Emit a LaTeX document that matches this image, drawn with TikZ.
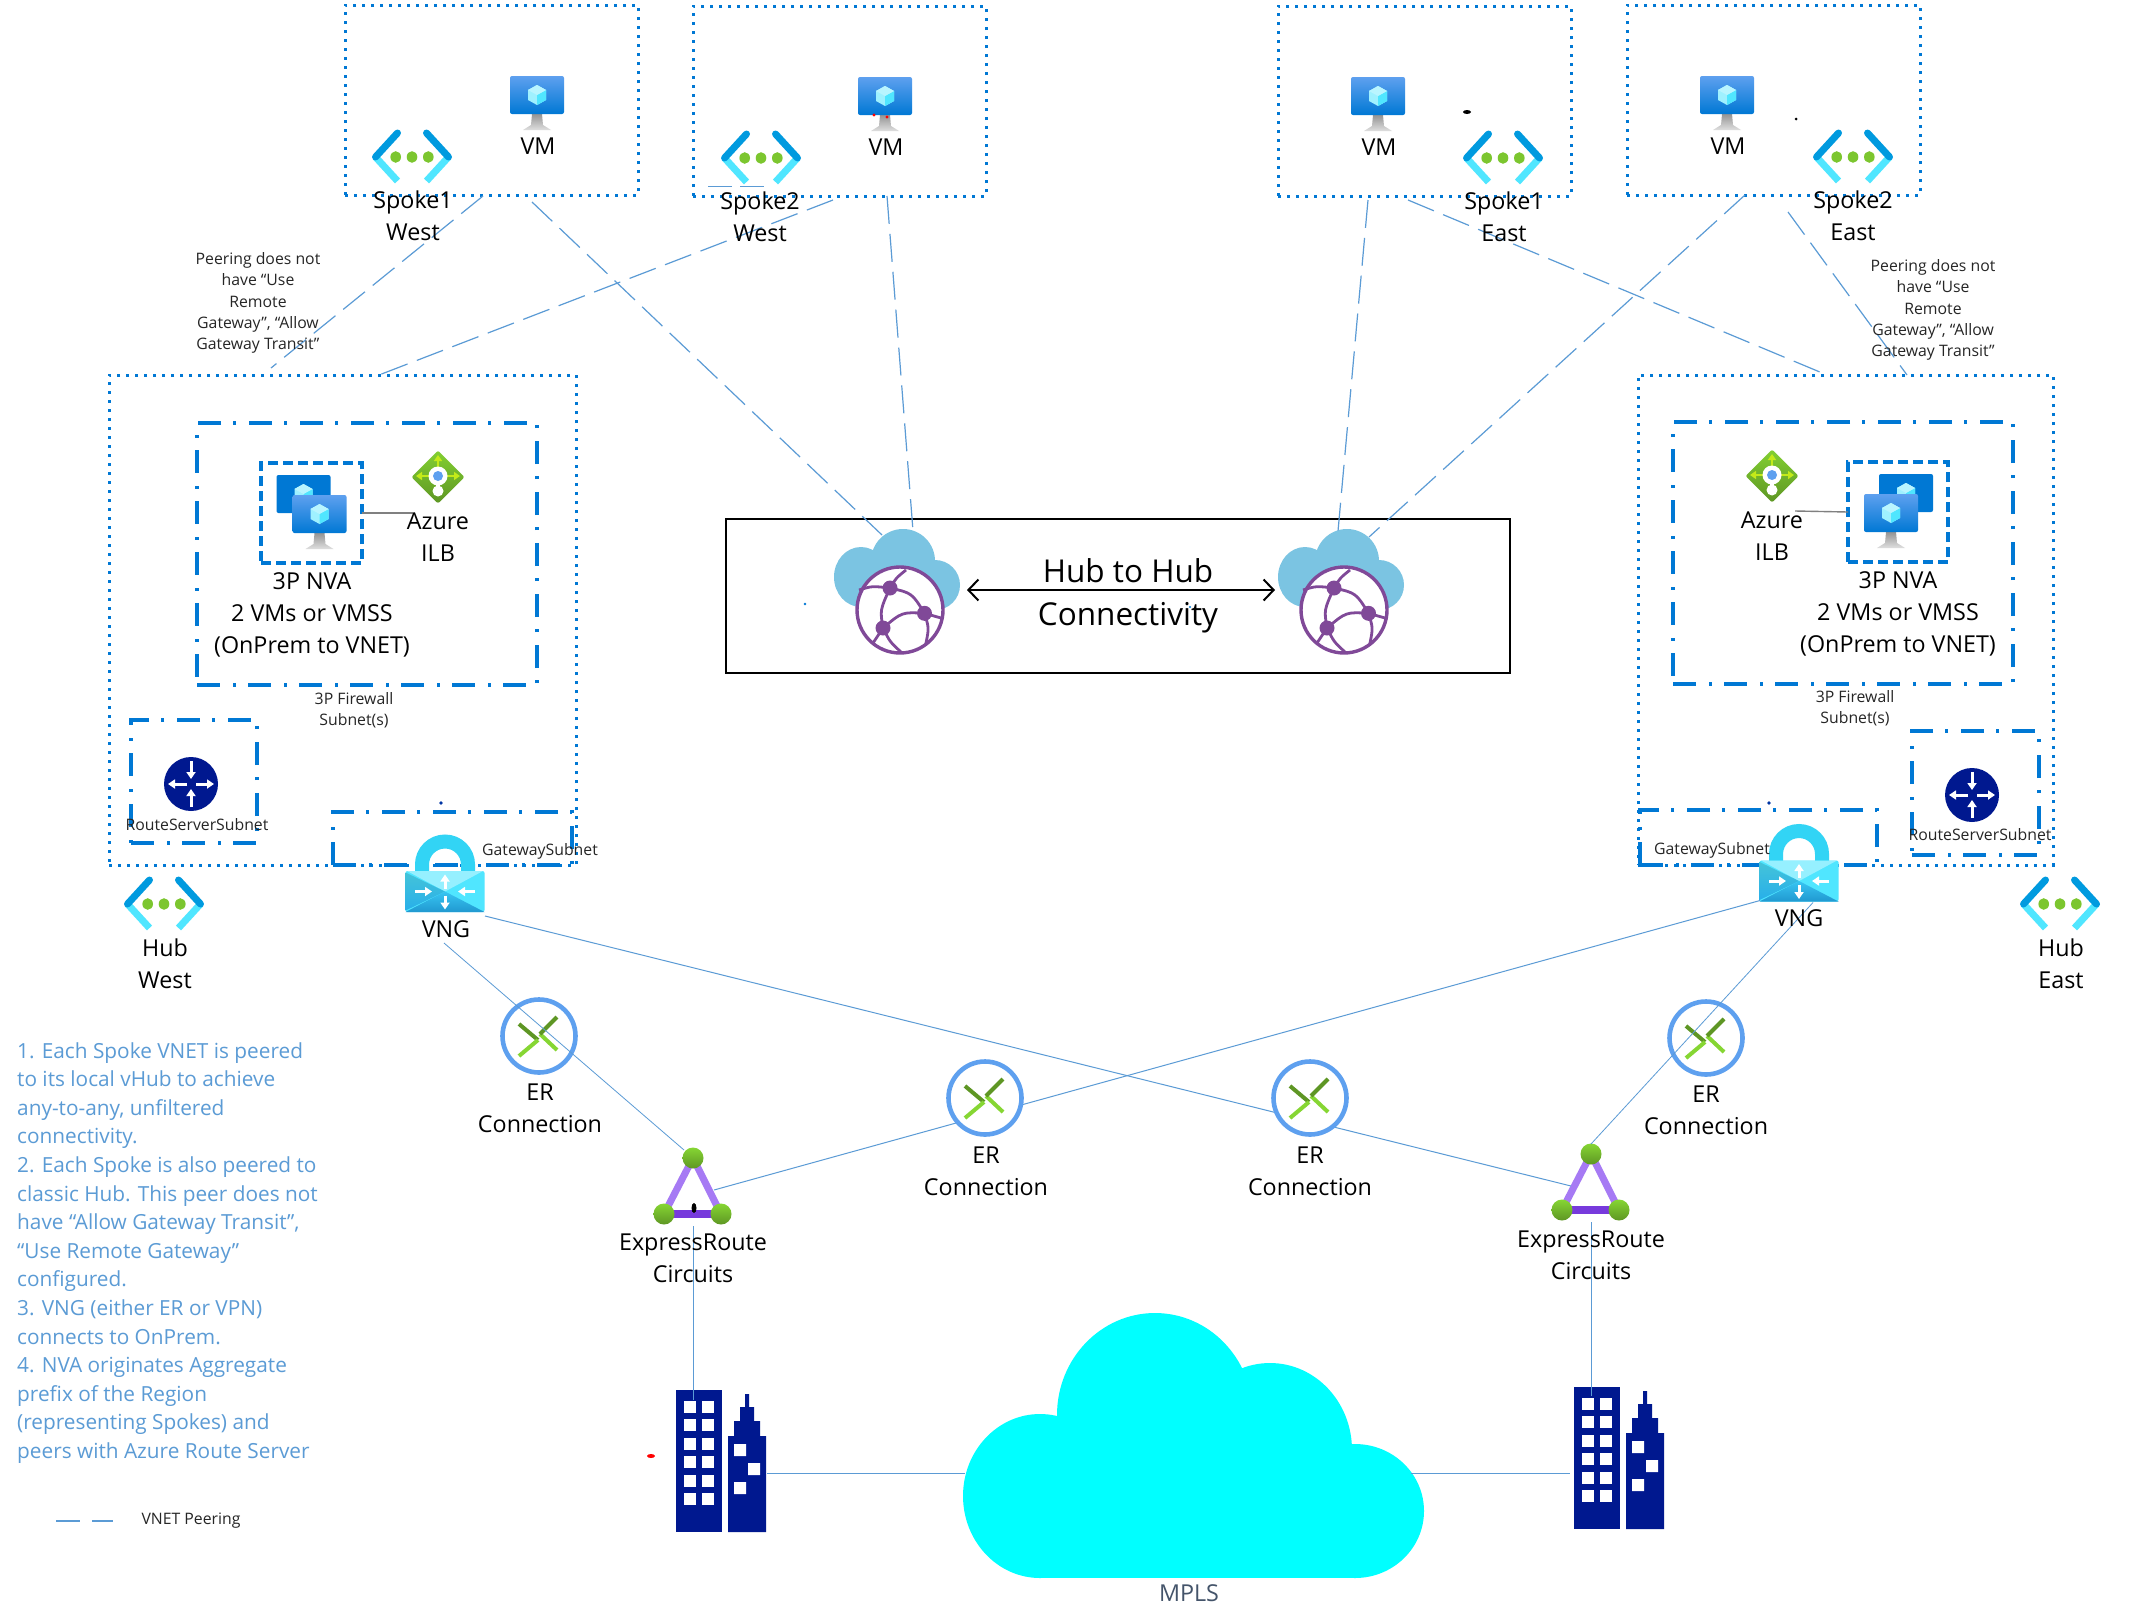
\documentclass[tikz,border=0pt]{standalone}
\usepackage{fontspec}
\setmainfont{Open Sans}
\usetikzlibrary{arrows.meta}
\definecolor{azb}{HTML}{0078D4}
\definecolor{azl}{HTML}{5EA0EF}
\definecolor{cyn}{HTML}{50E6FF}
\definecolor{lnk}{HTML}{5B9BD5}
\definecolor{nvy}{HTML}{00188F}
\definecolor{grn}{HTML}{86D633}
\definecolor{grd}{HTML}{5E9624}
\definecolor{prp}{HTML}{804998}
\definecolor{cld}{HTML}{7BC4E2}
\definecolor{gry}{HTML}{949494}
\definecolor{aqua}{HTML}{00FFFF}
\definecolor{shk}{HTML}{32D4F5}
\definecolor{tril}{HTML}{A67AF4}
\definecolor{trid}{HTML}{773ADC}
\definecolor{slate}{HTML}{44546A}
\tikzset{
 txtbig/.style={font=\fontsize{23.3}{32}\selectfont,align=center,inner sep=0pt,text=black},
 txtsmall/.style={font=\fontsize{15.8}{21.4}\selectfont,align=center,inner sep=0pt,text=black!85},
 dotbox/.style={draw=azb,line width=3pt,dash pattern=on 3pt off 6pt,inner sep=0pt,outer sep=0pt},
 dashdotbox/.style={draw=azb,line width=3.2pt,dash pattern=on 23pt off 13pt on 3pt off 12pt,inner sep=0pt,outer sep=0pt},
 nvabox/.style={draw=azb,line width=3.4pt,dash pattern=on 10pt off 5pt,inner sep=0pt,outer sep=0pt},
 iconspot/.style={inner sep=0pt,outer sep=0pt},
 peerline/.style={draw=lnk,line width=1.2pt,dash pattern=on 28pt off 10pt},
 wire/.style={draw=lnk,line width=1pt},
 arrw/.style={draw=white,line width=3pt,-{Triangle[length=7pt,width=9pt]}},
}
% VM screen with cube
\newcommand\VMscreen[1]{%
 \path[#1,rounded corners=2pt] (-27,-27) rectangle (27,11);
 \fill[cyn!55!white] (0,-18) -- (9,-13) -- (9,-3) -- (0,2) -- (-9,-3) -- (-9,-13) -- cycle;
 \fill[cyn] (0,-8) -- (9,-13) -- (9,-3) -- (0,2) -- cycle;
 \fill[white!60!cyn] (0,-18) -- (9,-13) -- (0,-8) -- (-9,-13) -- cycle;
}
\newcommand\VMstand{%
 \path[top color=gry,bottom color=gray!25] (-5,11) -- (5,11) -- (6,22) -- (14,27) -- (-14,27) -- (-6,22) -- cycle;
}
\newcommand\VMicon[3]{\begin{scope}[shift={(#2,#3)}]
 \VMstand
 \VMscreen{top color=azl,bottom color=azb}
 \node[iconspot,minimum width=54pt,minimum height=54pt] (#1) at (0,0) {};
\end{scope}}
\newcommand\VMpair[4]{\begin{scope}[shift={(#2,#3)}]
 \begin{scope}[shift={(#4,-20)}]\VMscreen{fill=azb}\end{scope}
 \VMstand
 \VMscreen{top color=azl,bottom color=azb}
 \node[iconspot,minimum width=70pt,minimum height=70pt] (#1) at (0,-8) {};
\end{scope}}
\newcommand\VNETicon[3]{\begin{scope}[shift={(#2,#3)}]
 \draw[draw=cyn,line width=7pt] (-14.5,24) -- (-36.5,0) (14.5,24) -- (36.5,0);
 \draw[draw=azb!75!cyan,line width=7pt,line cap=round] (-14.5,-24) -- (-36.5,0) (14.5,-24) -- (36.5,0);
 \foreach \d in {-16.3,0,16.3}{\fill[grn!75!grd] (\d,0) ellipse (5.3pt and 5.8pt);}
 \node[iconspot,minimum width=79pt,minimum height=53pt] (#1) at (0,0) {};
\end{scope}}
\newcommand\VNGicon[3]{\begin{scope}[shift={(#2,#3)}]
 \draw[draw=shk,line width=14pt] (-23,-18) -- (-23,-27) .. controls (-23,-39.7) and (-12.7,-50) .. (0,-50) .. controls (12.7,-50) and (23,-39.7) .. (23,-27) -- (23,-18);
 \fill[cyn,rounded corners=2pt] (-39.5,-20.5) rectangle (39.5,20.5);
 \fill[cyn!60!white] (-38,-20.5) -- (38,-20.5) -- (0,0) -- cycle;
 \path[top color=cyn!85!black,bottom color=cyn!50!azb] (-39.5,-19) -- (0,0) -- (-39.5,19) -- cycle;
 \path[top color=cyn!70!azb,bottom color=cyn!45!azb!90!black] (0,0) -- (39.5,20.5) -- (-39.5,20.5) -- cycle;
 \draw[arrw] (-30,0) -- (-13,0);
 \draw[arrw] (30,0) -- (13,0);
 \draw[arrw] (0,-3) -- (0,-17);
 \draw[arrw] (0,4) -- (0,18);
 \node[iconspot,minimum width=79pt,minimum height=78pt] (#1) at (0,-18.5) {};
\end{scope}}
\newcommand\ILBicon[3]{\begin{scope}[shift={(#2,#3)}]
 \path[top color=grn!90!grd,bottom color=grd,rounded corners=2pt] (0,-26.5) -- (26.5,0) -- (0,26.5) -- (-26.5,0) -- cycle;
 \draw[draw=grn!50!yellow,line width=2.6pt,-{Triangle[length=6pt,width=8pt]}] (-9,-1) -- (-22,-1);
 \draw[draw=grn!50!yellow,line width=2.6pt,-{Triangle[length=6pt,width=8pt]}] (9,-1) -- (22,-1);
 \draw[draw=grn!50!yellow,line width=2.6pt,-{Triangle[length=6pt,width=8pt]}] (0,-9) -- (0,-22);
 \fill[white] (0,-1) circle (9.5pt);
 \fill[white] (-2.2,5) rectangle (2.2,13);
 \fill[white] (0,14) circle (5.5pt);
 \fill[azl] (0,-1) circle (5pt);
 \node[iconspot,minimum width=53pt,minimum height=53pt] (#1) at (0,0) {};
\end{scope}}
\newcommand\RSicon[3]{\begin{scope}[shift={(#2,#3)}]
 \fill[nvy] (0,0) circle (27pt);
 \draw[arrw] (0,-23) -- (0,-5);
 \draw[arrw] (0,23) -- (0,5);
 \draw[arrw] (-4,0) -- (-23,0);
 \draw[arrw] (5,0) -- (23,0);
 \node[iconspot,circle,minimum size=54pt] (#1) at (0,0) {};
\end{scope}}
\newcommand\ERicon[4]{\begin{scope}[shift={(#2,#3)}]
 \draw[draw=azl,line width=4.6pt,#4] (0,0) circle (36.5pt);
 \draw[draw=grd,line width=4pt] (-20,-12) -- (-1,4);
 \draw[draw=grn,line width=4pt] (-1,4) -- (-20,20);
 \draw[draw=grn,line width=4pt] (1,-2) -- (18,14);
 \draw[draw=grd,line width=4pt] (18,-19) -- (1,-2);
 \node[iconspot,circle,minimum size=77pt] (#1) at (0,0) {};
\end{scope}}
\newcommand\ERCicon[3]{\begin{scope}[shift={(#2,#3)}]
 \draw[draw=tril,line width=7pt] (0,-28) -- (-29,28) (0,-28) -- (28,28);
 \draw[draw=trid,line width=8.5pt] (-29,28) -- (28,28);
 \foreach \p in {(0,-28),(-29,28),(28,28)}{\path[top color=grn,bottom color=grd] \p circle (10.5pt);}
 \node[iconspot,minimum width=78pt,minimum height=78pt] (#1) at (0,0) {};
\end{scope}}
\newcommand\VHUBicon[3]{\begin{scope}[shift={(#2,#3)}]
 % origin = centre of the 126x126 icon
 \fill[cld] (-36,-15) ellipse (27pt and 30pt);
 \fill[cld] (6,-31) circle (32pt);
 \fill[cld] (38,-7) circle (25pt);
 \fill[cld] (-30,-25) rectangle (40,16);
 \draw[draw=prp,fill=white,line width=3.4pt] (3,18) circle (43pt);
 \begin{scope}[draw=prp,line width=2.8pt,shift={(3,18)}]
  \draw (-41,-20) .. controls (-28,-24) .. (-10,-22);
  \draw (-10,-22) .. controls (-4,-32) .. (6,-40);
  \draw (-10,-22) .. controls (12,-17) .. (24.5,3.3);
  \draw (-10,-22) .. controls (-20,0) .. (-17,18);
  \draw (-17,18) .. controls (2,2) .. (24.5,3.3);
  \draw (24.5,3.3) -- (41,8);
  \draw (24.5,3.3) .. controls (29,18) .. (26,33);
  \draw (-17,18) .. controls (-10,32) .. (1,42);
  \draw (-17,18) -- (-27,33);
  \fill[prp] (-10,-22) circle (7.5pt) (24.5,3.3) circle (7.5pt) (-17,18) circle (7.5pt);
 \end{scope}
 \node[iconspot,minimum width=126pt,minimum height=126pt] (#1) at (0,0) {};
\end{scope}}
\newcommand\BLDicon[3]{\begin{scope}[shift={(#2,#3)}]
 \node[iconspot,minimum width=90pt,minimum height=142pt] (#1) at (45,71) {};
 \fill[nvy] (0,0) rectangle (46,142);
 \foreach \r in {0,...,5}{\fill[white] (7.5,10.5+18.5*\r) rectangle +(12,12);\fill[white] (26,10.5+18.5*\r) rectangle +(12,12);}
 \fill[nvy] (69,4) -- (73,4) -- (73,17) -- (78,17) -- (78,31) -- (84,31) -- (84,46) -- (90,46) -- (90,142) -- (52,142) -- (52,46) -- (58,46) -- (58,31) -- (64,31) -- (64,17) -- (69,17) -- cycle;
 \fill[white] (58,54) rectangle +(12,12) (72,73) rectangle +(12,12) (58,92) rectangle +(12,12);
\end{scope}}
\begin{document}
\begin{tikzpicture}[x=1pt,y=-1pt]
\useasboundingbox[fill=white] (0,0) rectangle (2143,1614);
% MPLS cloud
\begin{scope}
 \fill[aqua] (1040,1496) ellipse (77pt and 82pt);
 \fill[aqua] (1155,1415) ellipse (98pt and 102pt);
 \fill[aqua] (1270,1450) ellipse (82pt and 87pt);
 \fill[aqua] (1355,1511) ellipse (69pt and 67pt);
 \fill[aqua] (1040,1500) rectangle (1355,1578);
 \node[iconspot,minimum width=461pt,minimum height=265pt] (mpls) at (1193,1445) {};
\end{scope}
% boxes
\node[dotbox,minimum width=293pt,minimum height=190pt] (s1w) at (491.5,100) {};
\node[dotbox,minimum width=293pt,minimum height=190pt] (s2w) at (839.5,101) {};
\node[dotbox,minimum width=293pt,minimum height=190pt] (s1e) at (1424.5,101) {};
\node[dotbox,minimum width=293pt,minimum height=190pt] (s2e) at (1773.5,100) {};
\node[dotbox,minimum width=467pt,minimum height=490pt] (hubw) at (342.5,620) {};
\node[dotbox,minimum width=415pt,minimum height=490pt] (hube) at (1845.5,620) {};
\node[dashdotbox,minimum width=340pt,minimum height=262pt] (fww) at (367,554) {};
\node[dashdotbox,minimum width=340pt,minimum height=262pt] (fwe) at (1843,553) {};
\node[nvabox,minimum width=101pt,minimum height=100pt] (nvaw) at (311.5,513) {};
\node[nvabox,minimum width=100pt,minimum height=100pt] (nvae) at (1898,512) {};
\node[dashdotbox,minimum width=126pt,minimum height=123pt] (rsw) at (194,781.5) {};
\node[dashdotbox,minimum width=127pt,minimum height=124pt] (rse) at (1975.5,793) {};
\node[dashdotbox,minimum width=239pt,minimum height=53pt] (gww) at (452.5,838.5) {};
\node[dashdotbox,minimum width=237pt,minimum height=55pt] (gwe) at (1758.5,837.5) {};
\draw[draw=black,line width=2.6pt] (726,519) rectangle (1510,673);
\node[iconspot,minimum width=784pt,minimum height=154pt] (h2h) at (1118,596) {};
% icons that hide what runs behind them come after the lines
\VHUBicon{vhw}{897}{592}
\VHUBicon{vhe}{1341}{592}
\VMicon{vm1}{537}{103}
\VMicon{vm2}{885}{104}
\VMicon{vm3}{1378}{104}
\VMicon{vm4}{1727}{103}
\VNETicon{n1}{412}{157}
\VNETicon{n2}{761}{158}
\VNETicon{n3}{1503}{158}
\VNETicon{n4}{1853}{157}
\VNETicon{n5}{164}{904}
\VNETicon{n6}{2060}{904}
\VMpair{nv1}{319.5}{522}{-16}
\VMpair{nv2}{1891}{521}{15}
\ILBicon{il1}{438}{477}
\ILBicon{il2}{1772}{476}
\RSicon{rs1}{191}{784}
\RSicon{rs2}{1972}{795}
\VNGicon{vngw}{445}{891.5}
\VNGicon{vnge}{1799}{881}
\ERCicon{triw}{693}{1186}
\ERCicon{trie}{1591}{1182}
\BLDicon{bldw}{676}{1390}
\BLDicon{blde}{1574}{1387}
% connectors
\draw[wire] ([shift={(40,43)}]vngw.center) -- ([shift={(-20,4)}]trie.center);
\draw[wire] ([shift={(21,4)}]triw.center) -- ([shift={(-39,38)}]vnge.center);
\ERicon{er2}{985}{1098}{fill=white}
\ERicon{er3}{1310}{1098}{fill=white}
\ERicon{er1}{539}{1036}{}
\ERicon{er4}{1706}{1038}{}
\draw[wire,line width=.8pt] ([shift={(-1,70)}]vngw.center) -- ([shift={(-9,-36)}]triw.center);
\draw[wire,line width=.8pt] ([shift={(14,40)}]vnge.center) -- ([shift={(0,-38)}]trie.center);
\draw[wire,line width=.8pt] ([shift={(0,40)}]triw.center) -- ([shift={(-28,-61)}]bldw.center);
\draw[wire,line width=.8pt] ([shift={(0,40)}]trie.center) -- ([shift={(-28,-62)}]blde.center);
\draw[wire] ([shift={(46,12)}]bldw.center) -- ([shift={(-228,28)}]mpls.center);
\draw[wire] ([shift={(218,28)}]mpls.center) -- ([shift={(-49,15)}]blde.center);
\draw[draw=gray,line width=1.4pt] (nvaw.east) -- ([shift={(-25,36)}]il1.center);
\draw[draw=gray,line width=1.4pt] ([shift={(23,35)}]il2.center) -- (nvae.west);
\draw[peerline] ([shift={(-8.5,96)}]s1w.center) -- ([shift={(-71.5,-252)}]hubw.center);
\draw[peerline] ([shift={(40.5,102)}]s1w.center) -- ([shift={(-15,-57)}]vhw.center);
\draw[peerline] ([shift={(-6.5,99)}]s2w.center) -- ([shift={(36.5,-245)}]hubw.center);
\draw[peerline] ([shift={(47.5,95)}]s2w.center) -- ([shift={(16,-61)}]vhw.center);
\draw[peerline] ([shift={(-56.5,99)}]s1e.center) -- ([shift={(-3,-61)}]vhe.center);
\draw[peerline] ([shift={(-28.5,95)}]s2e.center) -- ([shift={(28,-55)}]vhe.center);
\draw[peerline] ([shift={(-16.5,99)}]s1e.center) -- ([shift={(-18.5,-245)}]hube.center);
\draw[peerline] ([shift={(14.5,112)}]s2e.center) -- ([shift={(61.5,-245)}]hube.center);
\draw[draw=black,line width=2pt,{Straight Barb[length=10pt,width=21pt]}-{Straight Barb[length=10pt,width=21pt]}] ([shift={(70,-2)}]vhw.center) -- ([shift={(-66,-2)}]vhe.center);
% legend and stray marks
\coordinate (lega) at (56,1521);
\coordinate (legb) at (113,1521);
\draw[peerline,dash pattern=on 24pt off 12pt on 21pt] (lega) -- (legb);
\coordinate (stra) at (708,186);
\coordinate (strb) at (764,186);
\draw[draw=lnk,line width=1pt,dash pattern=on 24pt off 8pt on 24pt] (stra) -- (strb);
\fill[red] (874,115) circle (1.6pt) (887,117) circle (1.6pt);
\fill[red] (651,1456) ellipse (4pt and 2pt);
\fill[black] (694,1208) ellipse (2.5pt and 5pt);
\fill[black] (1467,112) ellipse (4pt and 2pt);
\fill[black] (1796,119) circle (1.5pt);
\fill[azb] (805,604) circle (1.3pt) (1190,607) circle (1.1pt);
\fill[nvy!70!azb] (441,803) circle (1.8pt) (1769,803) circle (1.8pt);
% labels
\node[txtbig] (t1) at (538,146) {VM};
\node[txtbig] (t2) at (886,147) {VM};
\node[txtbig] (t3) at (1379,147) {VM};
\node[txtbig] (t4) at (1728,146) {VM};
\node[txtbig] (t5) at (413,216) {Spoke1\\West};
\node[txtbig] (t6) at (760,217) {Spoke2\\West};
\node[txtbig] (t7) at (1504,217) {Spoke1\\East};
\node[txtbig] (t8) at (1853,216) {Spoke2\\East};
\node[txtbig] (t9) at (165,964) {Hub\\West};
\node[txtbig] (t10) at (2061,964) {Hub\\East};
\node[txtbig] (t11) at (312,614.5) {3P NVA\\2 VMs or VMSS\\(OnPrem to VNET)};
\node[txtbig] (t12) at (1898,613.5) {3P NVA\\2 VMs or VMSS\\(OnPrem to VNET)};
\node[txtbig] (t13) at (438,537) {Azure\\ILB};
\node[txtbig] (t14) at (1772,536) {Azure\\ILB};
\node[txtbig] (t15) at (446,929) {VNG};
\node[txtbig] (t16) at (1799,918) {VNG};
\node[txtbig] (t17) at (540,1108) {ER\\Connection};
\node[txtbig] (t18) at (986,1171) {ER\\Connection};
\node[txtbig] (t19) at (1310,1171) {ER\\Connection};
\node[txtbig] (t20) at (1706,1110) {ER\\Connection};
\node[txtbig] (t21) at (693,1258) {ExpressRoute\\Circuits};
\node[txtbig] (t22) at (1591,1255) {ExpressRoute\\Circuits};
\node[txtbig,font=\fontsize{31.5}{43}\selectfont] (t23) at (1128,596) {Hub to Hub\\Connectivity};
\node[txtbig,text=slate] (t24) at (1189,1593) {MPLS};
\node[txtsmall] (t25) at (258,303) {Peering does not\\have “Use\\Remote\\Gateway”, “Allow\\Gateway Transit”};
\node[txtsmall] (t26) at (1933,310) {Peering does not\\have “Use\\Remote\\Gateway”, “Allow\\Gateway Transit”};
\node[txtsmall] (t27) at (354,710) {3P Firewall\\Subnet(s)};
\node[txtsmall] (t28) at (1855,708) {3P Firewall\\Subnet(s)};
\node[txtsmall] (t29) at (197,825) {RouteServerSubnet};
\node[txtsmall] (t30) at (1980,835) {RouteServerSubnet};
\node[txtsmall] (t31) at (540,851) {GatewaySubnet};
\node[txtsmall] (t32) at (1712,850) {GatewaySubnet};
\node[txtsmall] (t33) at (191,1521) {VNET Peering};
\node[inner sep=0pt,anchor=north west,align=left,text=lnk,font=\fontsize{20.8}{28.6}\selectfont] (notes) at (17,1042) {1. Each Spoke VNET is peered\\to its local vHub to achieve\\any-to-any, unfiltered\\connectivity.\\2. Each Spoke is also peered to\\classic Hub. This peer does not\\have “Allow Gateway Transit”,\\“Use Remote Gateway”\\configured.\\3. VNG (either ER or VPN)\\connects to OnPrem.\\4. NVA originates Aggregate\\prefix of the Region\\(representing Spokes) and\\peers with Azure Route Server};
\end{tikzpicture}
\end{document}
